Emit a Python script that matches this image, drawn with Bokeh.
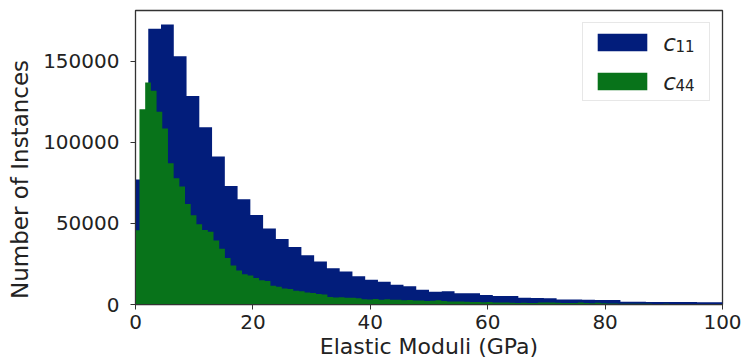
from bokeh.plotting import figure
from bokeh.models import Range1d, FixedTicker, BasicTickFormatter, Legend, LegendItem, Label
from bokeh.embed import file_html
from bokeh.resources import INLINE

# Histogram of c11 (coarser bins, 46 bins over 0-100 GPa)
c11_bin_start = 0.0
c11_bin_width = 100.0 / 46
c11_counts = [
    77000, 170000, 172600, 153000, 128500, 109300, 91300, 73100, 64900, 55100,
    46800, 40400, 35400, 30400, 26500, 22400, 20300, 17400, 15300, 14100,
    12200, 11200, 9100, 7800, 8200, 7000, 7000, 5900, 5300, 5200,
    4200, 4000, 3900, 3100, 3100, 2900, 2800, 2700, 1700, 1700,
    1600, 1600, 1500, 1500, 1400, 1400,
]

# Histogram of c44 (finer bins)
c44_bin_start = -0.29
c44_bin_width = 0.97
c44_counts = [
    45800, 120300, 136800, 131700, 118800, 108500, 87100, 77800, 72700, 62000,
    55000, 49500, 46000, 44800, 39500, 34300, 28600, 24000, 20900, 18600,
    17800, 16300, 15000, 14500, 11600, 11000, 9900, 9600, 8500, 8200,
    7400, 7100, 6400, 6200, 4600, 4300, 4400, 4100, 4200, 3800,
    3300, 3100, 3400, 3000, 3200, 2900, 3000, 2600, 2800, 2400,
    2500, 2200, 2300, 2600, 2100, 1900, 1800, 1900, 1700, 1600,
    1500, 1400, 1500, 1300, 1200, 1300, 1100, 1000, 1100, 900,
    1000, 1300, 1200, 1300, 1100, 1000, 900, 1000, 1200, 900,
    800, 1100, 700, 600, 600, 500, 500, 400, 500, 400,
    400, 300, 300, 400, 300, 300, 200, 300, 200, 200,
    200, 200, 100, 100,
]

x_ticks = [0, 20, 40, 60, 80, 100]
y_ticks = [0, 50000, 100000, 150000]

C11_COLOR = "#021d7b"
C44_COLOR = "#08731a"
FONT = "DejaVu Sans"
TEXT_COLOR = "#222222"

X_MAX = 100
Y_MAX = max(c11_counts) * 1.05


def step_outline(start, width, counts):
    """Closed outline of a filled histogram (one polygon, no seams)."""
    xs, ys = [start], [0]
    for i, c in enumerate(counts):
        xs += [start + i * width, start + (i + 1) * width]
        ys += [c, c]
    xs.append(start + len(counts) * width)
    ys.append(0)
    return xs, ys


p = figure(
    width=742, height=364,
    output_backend="svg", toolbar_location=None,
    x_range=Range1d(0, X_MAX),
    y_range=Range1d(0, Y_MAX),
    min_border_left=135, min_border_right=20,
    min_border_top=10, min_border_bottom=60,
)
p.background_fill_color = "white"
p.border_fill_color = "white"
p.grid.visible = False
p.outline_line_color = "#333333"
p.outline_line_width = 1.3

x11, y11 = step_outline(c11_bin_start, c11_bin_width, c11_counts)
hist11 = p.patch(x11, y11, fill_color=C11_COLOR, line_color=None)

x44, y44 = step_outline(c44_bin_start, c44_bin_width, c44_counts)
hist44 = p.patch(x44, y44, fill_color=C44_COLOR, line_color=None)

for ax in (p.xaxis[0], p.yaxis[0]):
    ax.axis_line_color = "#333333"
    ax.major_tick_line_color = "#333333"
    ax.major_tick_out = 5
    ax.major_tick_in = 0
    ax.minor_tick_line_color = None
    ax.major_label_text_font = FONT
    ax.major_label_text_font_size = "20px"
    ax.major_label_text_color = TEXT_COLOR
    ax.axis_label_text_font = FONT
    ax.axis_label_text_font_style = "normal"
    ax.axis_label_text_color = TEXT_COLOR

p.xaxis.ticker = FixedTicker(ticks=x_ticks)
p.yaxis.ticker = FixedTicker(ticks=y_ticks)
p.yaxis.formatter = BasicTickFormatter(use_scientific=False)
p.xaxis.axis_label = "Elastic Moduli (GPa)"
# trailing no-break spaces nudge the rotated label towards the bottom
p.yaxis.axis_label = "Number of Instances" + "\u00a0" * 6
p.xaxis.axis_label_text_font_size = "22px"
p.yaxis.axis_label_text_font_size = "23px"
p.xaxis.major_label_standoff = 5
p.yaxis.major_label_standoff = 11
p.xaxis.axis_label_standoff = 2
p.yaxis.axis_label_standoff = 7

# Legend box with colour patches; the math-style labels are drawn separately
legend = Legend(
    items=[
        LegendItem(label=" ", renderers=[hist11]),
        LegendItem(label=" ", renderers=[hist44]),
    ],
    location="top_right",
)
legend.margin = 12
legend.padding = 8
legend.spacing = 17
legend.glyph_width = 62
legend.glyph_height = 22
legend.label_standoff = 16
legend.label_width = 32
legend.label_height = 22
legend.label_text_font_size = "10px"
legend.border_line_color = "#d0d0d0"
legend.border_line_width = 1
legend.background_fill_alpha = 0.0
p.add_layout(legend)

# Legend labels: italic "c" with upright subscript indices
legend_labels = [("c", "11"), ("c", "44")]
label_x = 89.9              # GPa, right of the colour patches
label_y = [161300, 137000]  # baselines of the two rows
for (sym, sub), yb in zip(legend_labels, label_y):
    p.add_layout(Label(x=label_x, y=yb, text=sym, text_font=FONT,
                       text_font_style="italic", text_font_size="23px",
                       text_color=TEXT_COLOR, text_baseline="alphabetic"))
    p.add_layout(Label(x=label_x + 2.1, y=yb - 1700, text=sub, text_font=FONT,
                       text_font_size="15px", text_color=TEXT_COLOR,
                       text_baseline="alphabetic"))

open("out.html", "w").write(file_html(p, INLINE))
